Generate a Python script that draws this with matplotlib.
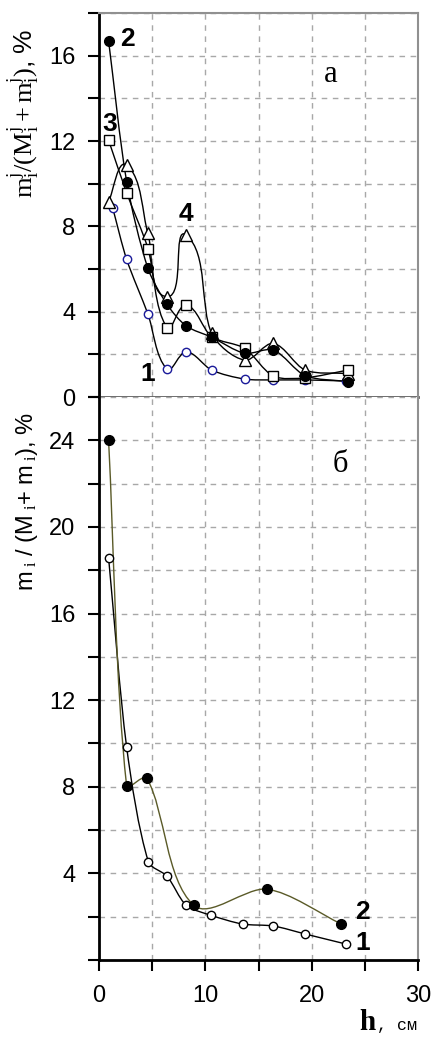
import numpy as np
import matplotlib
matplotlib.use('Agg')
import matplotlib.pyplot as plt
from matplotlib.path import Path
from matplotlib.patches import PathPatch

plt.rcParams['font.family'] = ['Liberation Sans', 'DejaVu Sans']
plt.rcParams['mathtext.fontset'] = 'custom'
plt.rcParams['mathtext.rm'] = 'Liberation Serif'
plt.rcParams['mathtext.it'] = 'Liberation Serif'

# panel a: depth h (cm) and share, %
a_h1 = [1.3, 2.6, 4.6, 6.4, 8.2, 10.6, 13.7, 16.4, 19.4, 23.2]
a_y1 = [8.84, 6.45, 3.89, 1.31, 2.12, 1.26, 0.84, 0.80, 0.80, 0.75]
a_h = [0.9, 2.6, 4.6, 6.4, 8.2, 10.6, 13.7, 16.4, 19.4, 23.4]
a_y2 = [16.7, 10.1, 6.03, 4.34, 3.33, 2.80, 2.05, 2.20, 1.00, 0.72]
a_y3 = [12.04, 9.57, 6.96, 3.25, 4.31, 2.83, 2.28, 0.98, 0.90, 1.26]
a_y4 = [9.15, 10.87, 7.67, 4.70, 7.59, 2.98, 1.73, 2.51, 1.26, 1.10]

# panel b
b_h1 = [0.9, 2.6, 4.65, 6.4, 8.2, 10.5, 13.5, 16.4, 19.4, 23.2]
b_y1 = [18.58, 9.83, 4.53, 3.87, 2.53, 2.07, 1.66, 1.57, 1.20, 0.74]
b_h2 = [0.9, 2.6, 4.5, 8.9, 15.8, 22.8]
b_y2 = [24.0, 8.04, 8.4, 2.53, 3.27, 1.66]

SX, SY = 10.6, 21.5  # rough px per unit, keeps the smoothing close to screen shape


def smooth(ax, x, y, color='black', lw=1.0, k=0.85):
    # smoothed line like Excel: cubic Beziers, tangents scaled by segment length
    p = np.column_stack([np.asarray(x) * SX, np.asarray(y) * SY]).astype(float)
    n = len(p)
    tang = []
    for i in range(n):
        a = p[i - 1] if i > 0 else p[i]
        b = p[i + 1] if i + 1 < n else p[i]
        d = b - a
        tang.append(d / (np.hypot(*d) or 1.0))
    verts = [p[0]]
    codes = [Path.MOVETO]
    for i in range(n - 1):
        seg = np.hypot(*(p[i + 1] - p[i])) / 3 * k
        verts += [p[i] + tang[i] * seg, p[i + 1] - tang[i + 1] * seg, p[i + 1]]
        codes += [Path.CURVE4] * 3
    verts = np.array(verts) / [SX, SY]
    ax.add_patch(PathPatch(Path(verts, codes), fill=False, edgecolor=color, lw=lw, zorder=2))


W, H = 432, 1042
fig = plt.figure(figsize=(W / 100, H / 100), dpi=100)
left, right = 99 / W, 418 / W
ax1 = fig.add_axes([left, 1 - 397 / H, right - left, (397 - 13) / H])
ax2 = fig.add_axes([left, 1 - 960 / H, right - left, (960 - 397) / H])

grid_kw = dict(color='#a8a8a8', lw=1.0, linestyle=(0, (4, 4)))

for ax in (ax1, ax2):
    ax.set_xlim(0, 30)
    ax.set_xticks(np.arange(0, 31, 5))
    ax.grid(True, **grid_kw)
    ax.set_axisbelow(True)
    ax.spines['left'].set_linewidth(2.0)
    ax.spines['left'].set_color('black')
    ax.spines['right'].set_color('#909090')
    ax.spines['right'].set_linewidth(1.5)
    ax.tick_params(axis='y', direction='out', length=8, width=1.5, pad=9,
                   labelsize=17, colors='black')

# top panel
ax1.set_ylim(0, 18)
ax1.set_yticks(np.arange(0, 19, 2))
ax1.set_yticklabels([str(v) if v % 4 == 0 and v < 18 else '' for v in range(0, 19, 2)])
ax1.tick_params(axis='x', length=0, labelbottom=False)
ax1.spines['top'].set_color('#909090')
ax1.spines['top'].set_linewidth(1.5)
ax1.spines['bottom'].set_color('#606060')
ax1.spines['bottom'].set_linewidth(2.0)

smooth(ax1, a_h1, a_y1)
smooth(ax1, a_h, a_y2)
smooth(ax1, a_h, a_y3)
smooth(ax1, a_h, a_y4)
ax1.plot(a_h1, a_y1, 'o', ms=6, mfc='white', mec='#1a1a9a', mew=1.0, ls='none', zorder=3)
ax1.plot(a_h, a_y4, '^', ms=8, mfc='white', mec='black', mew=1.0, ls='none', zorder=3)
ax1.plot(a_h, a_y3, 's', ms=7, mfc='white', mec='black', mew=1.0, ls='none', zorder=3)
ax1.plot(a_h, a_y2, 'o', ms=7, mfc='black', mec='black', ls='none', zorder=4)

lab = dict(fontsize=19, fontweight='bold', va='center', ha='center')
ax1.text(2.64, 16.8, '2', **lab)
ax1.text(1.04, 12.8, '3', **lab)
ax1.text(8.2, 8.6, '4', **lab)
ax1.text(4.6, 1.1, '1', **lab)
ax1.text(21.8, 15.1, 'а', fontsize=22, family='Liberation Serif', va='center', ha='center')

ax1.set_ylabel(r'$\mathrm{m^j_i/(M^j_i + m^j_i)}$, %', fontsize=19)
ax1.yaxis.set_label_coords(-0.18, 0.74)

# bottom panel
ax2.set_ylim(0, 26)
ax2.set_yticks(np.arange(0, 27, 2))
ax2.set_yticklabels([str(v) if v % 4 == 0 and 0 < v < 26 else '' for v in range(0, 27, 2)])
ax2.spines['top'].set_visible(False)
ax2.spines['bottom'].set_linewidth(2.0)
ax2.spines['bottom'].set_color('black')
ax2.set_xticklabels(['0', '', '10', '', '20', '', '30'])
ax2.tick_params(axis='x', direction='out', length=8, width=1.5, pad=10, labelsize=17)

smooth(ax2, b_h1, b_y1, color='black')
smooth(ax2, b_h2, b_y2, color='#5a5a28')
ax2.plot(b_h1, b_y1, 'o', ms=6, mfc='white', mec='black', mew=1.0, ls='none', zorder=3)
ax2.plot(b_h2, b_y2, 'o', ms=7, mfc='black', mec='black', ls='none', zorder=4)

ax2.text(24.8, 2.2, '2', **lab)
ax2.text(24.8, 0.8, '1', **lab)
ax2.text(22.7, 22.9, 'б', fontsize=22, family='Liberation Serif', va='center', ha='center')

ax2.set_ylabel(r'm$_{\ i}$ / (M$_{\ i}$+ m$_{\ i}$), %', fontsize=17)
ax2.yaxis.set_label_coords(-0.185, 0.815)

fig.text(376 / W, 1 - 1030 / H, 'h', fontsize=21, fontweight='bold',
         family='Liberation Serif', ha='right', va='baseline')
fig.text(377 / W, 1 - 1030 / H, ', см', fontsize=12, family='Liberation Mono',
         ha='left', va='baseline')

fig.savefig('out.png', dpi=100)
